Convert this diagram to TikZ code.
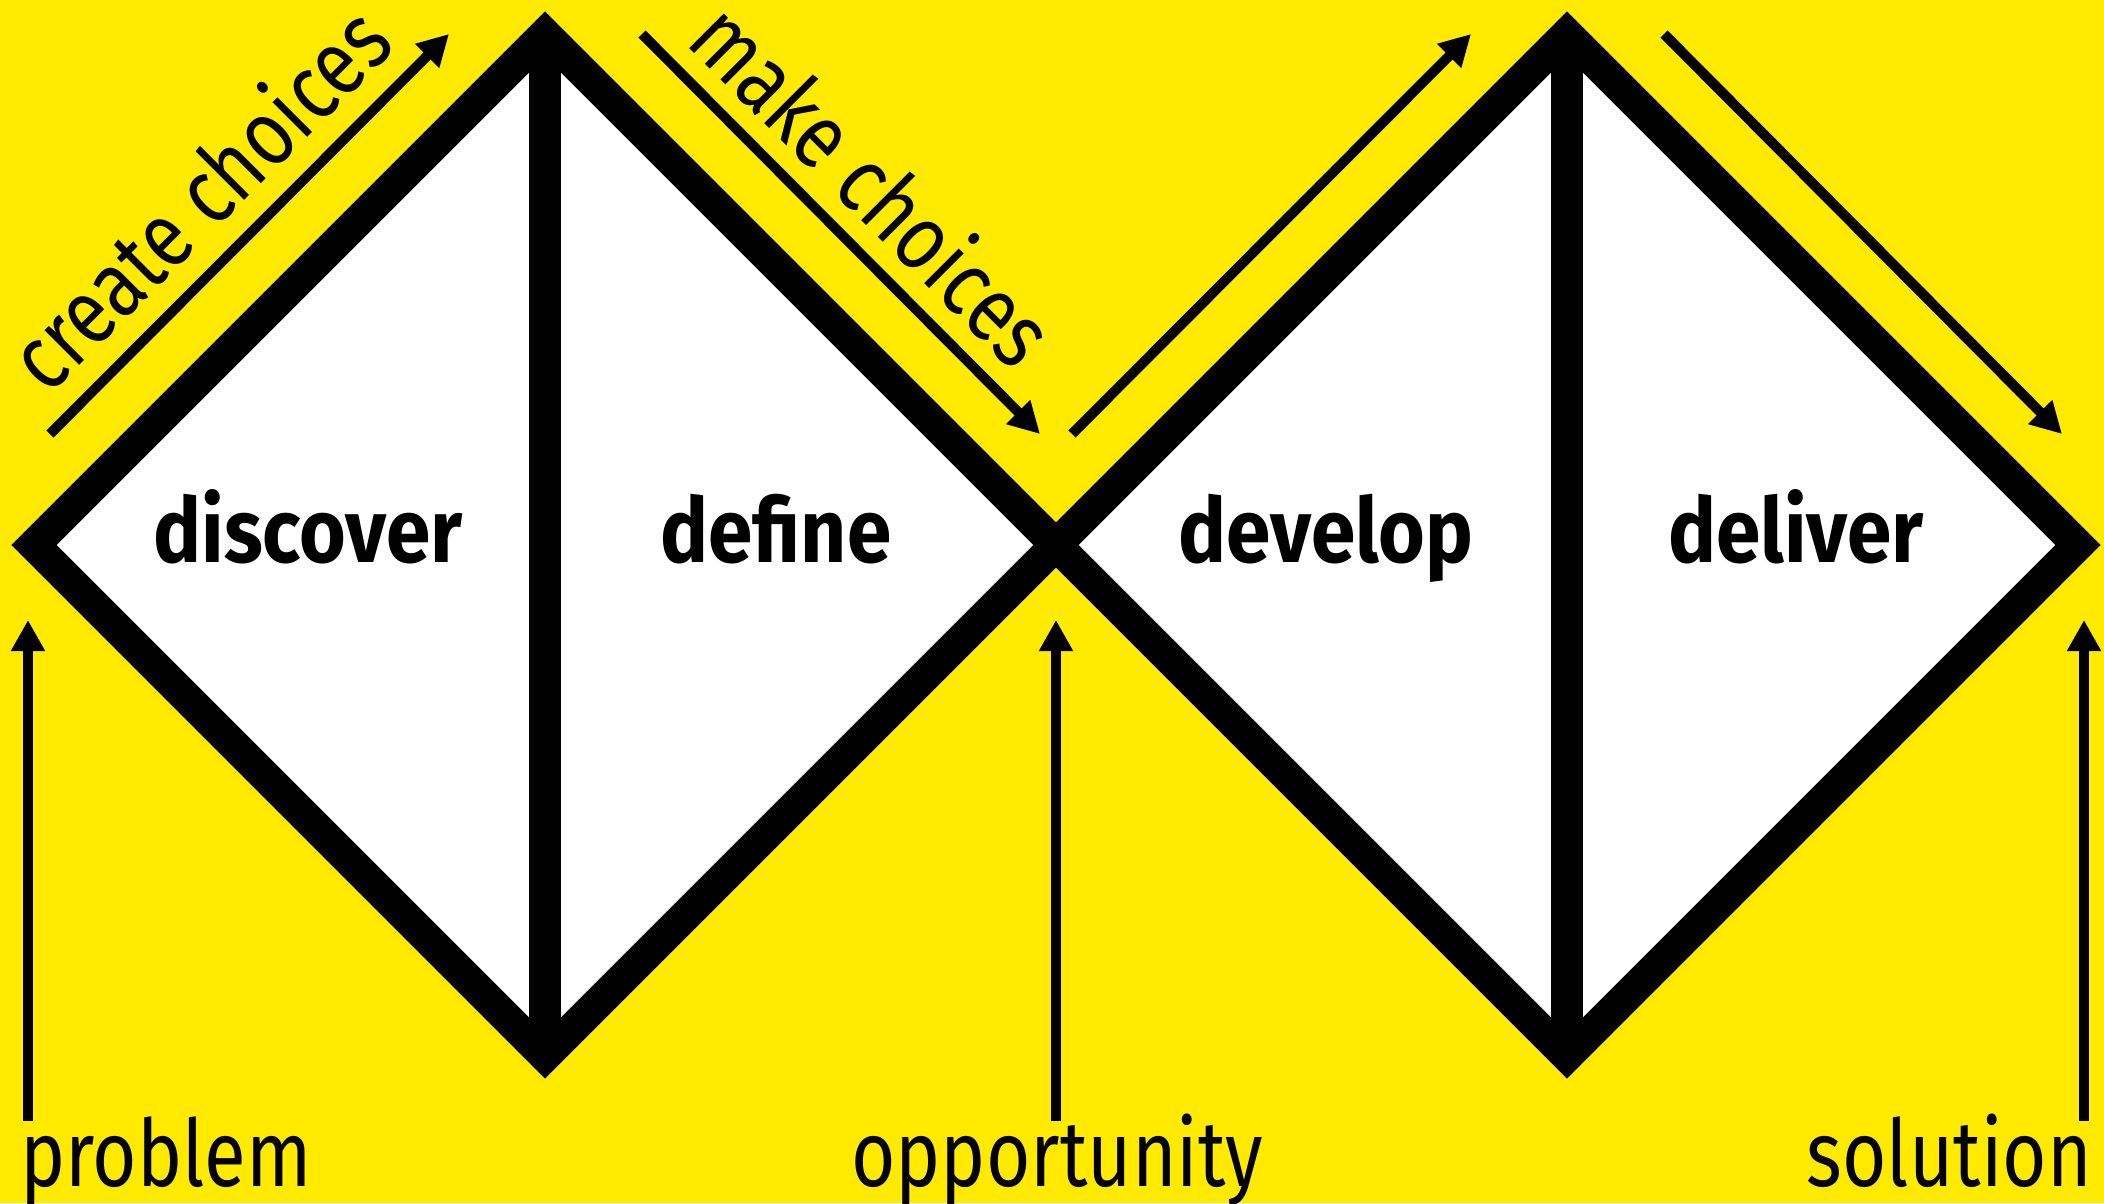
\documentclass[tikz,border=0pt]{standalone}
\usepackage{fontspec}
\setmainfont{Fira Sans}
\newfontfamily\lblfont[FakeStretch=0.82]{Fira Sans}
\newfontfamily\stgfont[FakeStretch=0.89]{Fira Sans}
\usetikzlibrary{arrows.meta}
\definecolor{bgyellow}{HTML}{FFEA00}
\begin{document}
\begin{tikzpicture}[x=1pt,y=-1pt,
  outline/.style={line width=32pt, line join=miter, miter limit=10},
  flow/.style={line width=10pt, -{Triangle[length=31pt,width=32pt]}},
  stage/.style={anchor=base, inner sep=0pt, font=\stgfont\bfseries\fontsize{90}{96}\selectfont},
  lbl/.style={inner sep=0pt, font=\lblfont\fontsize{93}{100}\selectfont},
]
\fill[bgyellow] (0,0) rectangle (2104,1203);
\useasboundingbox (0,0) rectangle (2104,1203);
% vertices
\coordinate (L1) at (34,545);
\coordinate (T1) at (545,34);
\coordinate (B1) at (545,1056);
\coordinate (M)  at (1056,545);
\coordinate (T2) at (1567,34);
\coordinate (B2) at (1567,1056);
\coordinate (R2) at (2078,545);
% fills
\fill[white] (L1) -- (T1) -- (M) -- (B1) -- cycle;
\fill[white] (M) -- (T2) -- (R2) -- (B2) -- cycle;
% outlines
\draw[outline] (L1) -- (T1) -- (M) -- (B1) -- cycle;
\draw[outline] (M) -- (T2) -- (R2) -- (B2) -- cycle;
\draw[line width=32pt] (T1) -- (B1);
\draw[line width=32pt] (T2) -- (B2);
% stage labels
\node[stage] (discover) at (308,562) {discover};
\node[stage] (define)   at (776,562) {define};
\node[stage] (develop)  at (1326,562) {develop};
\node[stage] (deliver)  at (1796,562) {deliver};
% diagonal arrows
\coordinate (a1s) at (50,434);   \coordinate (a1e) at (449,34);
\coordinate (a2s) at (642,34);   \coordinate (a2e) at (1040,434);
\coordinate (a3s) at (1072,434); \coordinate (a3e) at (1471,34);
\coordinate (a4s) at (1664,34);  \coordinate (a4e) at (2062,434);
\draw[flow] (a1s) -- (a1e);
\draw[flow] (a2s) -- (a2e);
\draw[flow] (a3s) -- (a3e);
\draw[flow] (a4s) -- (a4e);
\node[lbl, anchor=base, rotate=45]  (create) at (223,222) {create choices};
\node[lbl, anchor=base, rotate=-45] (make)   at (849,208) {make choices};
% bottom arrows and labels
\node[lbl, anchor=base west] (problem) at (20,1186) {problem};
\node[lbl, anchor=base] (opportunity) at (1057,1186) {opportunity};
\node[lbl, anchor=base east] (solution) at (2092,1186) {solution};
\coordinate (p1) at (28,1121);   \coordinate (p2) at (28,620);
\coordinate (o1) at (1056,1121); \coordinate (o2) at (1056,620);
\coordinate (s1) at (2084,1121); \coordinate (s2) at (2084,620);
\draw[flow] (p1) -- (p2);
\draw[flow] (o1) -- (o2);
\draw[flow] (s1) -- (s2);
\end{tikzpicture}
\end{document}
